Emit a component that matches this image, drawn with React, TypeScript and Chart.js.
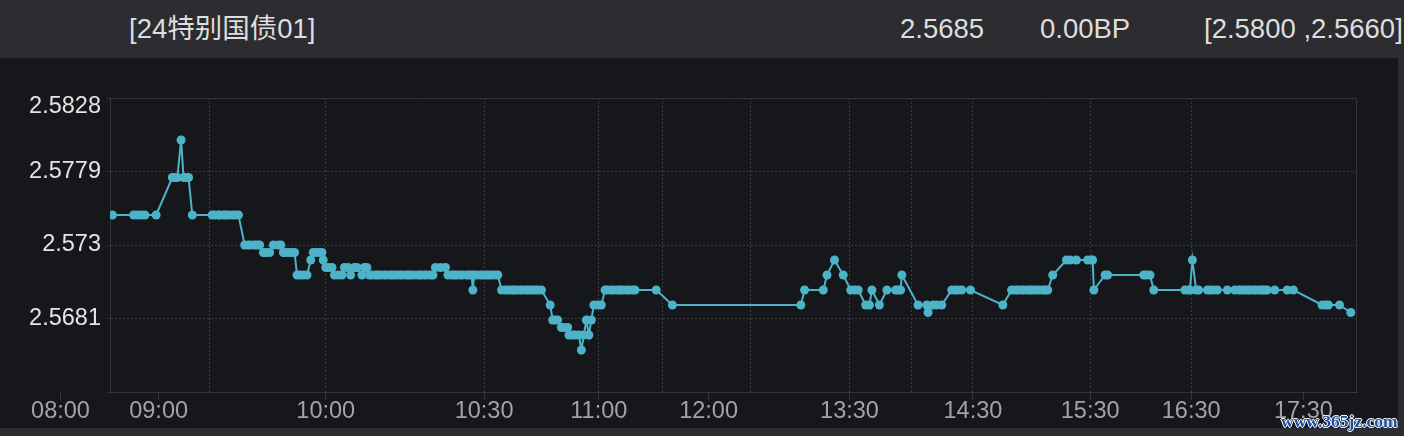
import React, { useEffect, useRef } from "react";
import { Chart, registerables } from "chart.js";

Chart.register(...registerables);

// ---------- header texts ----------
const BOND_NAME = "[24特别国债01]";
const LAST_YIELD = "2.5685";
const CHANGE_BP = "0.00BP";
const RANGE_TEXT = "[2.5800 ,2.5660]";
const WATERMARK = "www.365jz.com";

// ---------- x axis (trade sequence position 0..1000 across the session) ----------
const xLabelPositions = [-40, 39, 173, 300, 392, 480, 593, 692, 786, 867, 957];
const xLabelTexts = ["08:00", "09:00", "10:00", "10:30", "11:00", "12:00", "13:30", "14:30", "15:30", "16:30", "17:30"];
const xGridPositions = [80, 173, 300, 392, 443, 514, 593, 643, 692, 786, 867];

// ---------- y axis ----------
const yTickValues = [2.5632, 2.5681, 2.573, 2.5779, 2.5828];
const yTickLabels = ["", "2.5681", "2.573", "2.5779", "2.5828"];

// ---------- series: [sequence position, yield] ----------
const trades: [number, number][] = [
  [2, 2.575], [19, 2.575], [22, 2.575], [25, 2.575], [28, 2.575], [37, 2.575],
  [50, 2.5775], [52, 2.5775], [54, 2.5775],
  [57, 2.58],
  [59, 2.5775], [61, 2.5775], [63, 2.5775],
  [66, 2.575],
  [82, 2.575], [84, 2.575], [87, 2.575], [88, 2.575], [91, 2.575], [93, 2.575], [95, 2.575], [98, 2.575], [100, 2.575], [103, 2.575],
  [108, 2.573], [111, 2.573], [113, 2.573], [116, 2.573], [118, 2.573], [120, 2.573],
  [123, 2.5725], [125, 2.5725], [128, 2.5725],
  [131, 2.573], [135, 2.573], [137, 2.573],
  [139, 2.5725], [141, 2.5725], [144, 2.5725], [146, 2.5725], [148, 2.5725],
  [150, 2.571], [152, 2.571], [155, 2.571], [158, 2.571],
  [161, 2.572],
  [163, 2.5725], [165, 2.5725], [168, 2.5725], [170, 2.5725],
  [171, 2.572],
  [173, 2.5715], [175, 2.5715], [178, 2.5715],
  [180, 2.571], [183, 2.571], [186, 2.571],
  [188, 2.5715], [191, 2.5715],
  [193, 2.571],
  [196, 2.5715], [198, 2.5715],
  [202, 2.571],
  [204, 2.5715], [206, 2.5715],
  [208, 2.571], [210, 2.571], [213, 2.571], [215, 2.571], [217, 2.571], [220, 2.571], [222, 2.571], [225, 2.571],
  [227, 2.571], [229, 2.571], [232, 2.571], [234, 2.571], [237, 2.571], [239, 2.571], [241, 2.571], [244, 2.571],
  [247, 2.571], [249, 2.571], [252, 2.571], [254, 2.571], [257, 2.571], [259, 2.571],
  [261, 2.5715], [265, 2.5715], [269, 2.5715],
  [271, 2.571], [274, 2.571], [276, 2.571], [278, 2.571], [281, 2.571], [283, 2.571], [286, 2.571], [288, 2.571], [290, 2.571],
  [291, 2.57],
  [292, 2.571], [294, 2.571], [297, 2.571], [299, 2.571], [302, 2.571], [304, 2.571], [306, 2.571], [309, 2.571], [311, 2.571],
  [314, 2.57], [317, 2.57], [319, 2.57], [322, 2.57], [324, 2.57], [326, 2.57], [329, 2.57], [331, 2.57],
  [334, 2.57], [336, 2.57], [338, 2.57], [341, 2.57], [343, 2.57], [346, 2.57],
  [353, 2.569],
  [355, 2.568], [357, 2.568], [359, 2.568],
  [362, 2.5675], [364, 2.5675], [367, 2.5675],
  [368, 2.567], [371, 2.567], [373, 2.567], [376, 2.567],
  [378, 2.566],
  [380, 2.567],
  [382, 2.568],
  [384, 2.567],
  [386, 2.568],
  [388, 2.569], [391, 2.569], [394, 2.569],
  [397, 2.57], [399, 2.57], [402, 2.57], [404, 2.57], [407, 2.57], [409, 2.57], [411, 2.57], [414, 2.57], [416, 2.57], [419, 2.57], [421, 2.57],
  [438, 2.57],
  [451, 2.569],
  [554, 2.569],
  [557, 2.57], [572, 2.57],
  [575, 2.571],
  [581, 2.572],
  [588, 2.571],
  [594, 2.57], [597, 2.57], [600, 2.57],
  [606, 2.569], [609, 2.569],
  [611, 2.57],
  [617, 2.569],
  [623, 2.57], [630, 2.57], [632, 2.57], [634, 2.57],
  [635, 2.571],
  [648, 2.569], [655, 2.569],
  [656, 2.5685],
  [660, 2.569], [663, 2.569], [667, 2.569],
  [675, 2.57], [678, 2.57], [680, 2.57], [683, 2.57], [690, 2.57],
  [716, 2.569],
  [723, 2.57], [726, 2.57], [728, 2.57], [731, 2.57], [733, 2.57], [736, 2.57], [738, 2.57], [740, 2.57], [743, 2.57],
  [745, 2.57], [748, 2.57], [750, 2.57], [752, 2.57],
  [756, 2.571],
  [767, 2.572], [770, 2.572], [775, 2.572], [784, 2.572], [787, 2.572], [788, 2.572],
  [789, 2.57],
  [798, 2.571], [800, 2.571], [829, 2.571], [831, 2.571], [834, 2.571],
  [837, 2.57], [862, 2.57], [865, 2.57], [866, 2.57],
  [868, 2.572],
  [871, 2.57], [873, 2.57], [880, 2.57], [882, 2.57], [885, 2.57], [888, 2.57], [896, 2.57], [902, 2.57], [905, 2.57],
  [907, 2.57], [910, 2.57], [912, 2.57], [914, 2.57], [917, 2.57], [919, 2.57], [922, 2.57], [924, 2.57], [926, 2.57],
  [928, 2.57], [934, 2.57], [944, 2.57], [949, 2.57],
  [972, 2.569], [975, 2.569], [977, 2.569], [986, 2.569],
  [995, 2.5685],
];

// ---------- styles ----------
const FONT = "'Liberation Sans', Arial, 'Noto Sans CJK SC', sans-serif";
const PAGE_BG = "#2c2c31";
const PANEL_BG = "#15171b";
const LINE_COLOR = "#4db3c9";
const BORDER_COLOR = "#333438";
const GRID_COLOR = "#3a3b3f";
const Y_LABEL_COLOR = "#e4e4e4";
const X_LABEL_COLOR = "#a3a3a3";
const AXIS_FONT_SIZE = 23.5;
const X_TICK_LEN = 8;
const Y_TICK_LEN = 3;
const Y_TICK_PAD = 6;
const TOP_LABEL_DROP = 8.5;

const xTickValues = Array.from(new Set([...xLabelPositions.filter((v) => v >= 0), ...xGridPositions])).sort((a, b) => a - b);

const framePlugin = {
  id: "frameAndOuterLabels",
  beforeDatasetsDraw(chart: any) {
    const { ctx, chartArea: a } = chart;
    ctx.save();
    ctx.strokeStyle = BORDER_COLOR;
    ctx.lineWidth = 1;
    ctx.setLineDash([]);
    ctx.beginPath();
    const top = Math.round(a.top) + 0.5;
    const right = Math.round(a.right) - 0.5;
    ctx.moveTo(a.left, top);
    ctx.lineTo(right, top);
    ctx.lineTo(right, a.bottom);
    ctx.stroke();
    ctx.restore();
  },
  afterDraw(chart: any) {
    const sx = chart.scales.x;
    const sy = chart.scales.y;
    const ctx = chart.ctx;
    ctx.save();
    ctx.font = `${AXIS_FONT_SIZE}px ${FONT}`;
    ctx.textBaseline = "middle";
    // labels that sit outside the plotted range of the x axis
    for (let i = 0; i < xLabelPositions.length; i++) {
      const v = xLabelPositions[i];
      if (v >= sx.min) continue;
      const px = Math.round(sx.getPixelForValue(v)) + 0.5;
      ctx.strokeStyle = BORDER_COLOR;
      ctx.lineWidth = 1;
      ctx.beginPath();
      ctx.moveTo(px, sx.top);
      ctx.lineTo(px, sx.top + X_TICK_LEN);
      ctx.stroke();
      ctx.fillStyle = X_LABEL_COLOR;
      ctx.textAlign = "center";
      ctx.fillText(xLabelTexts[i], px, sx.top + X_TICK_LEN + AXIS_FONT_SIZE / 2);
    }
    // top y label is kept inside the plot (shifted down from its tick)
    const last = yTickValues.length - 1;
    ctx.fillStyle = Y_LABEL_COLOR;
    ctx.textAlign = "right";
    ctx.fillText(yTickLabels[last], sy.right - Y_TICK_LEN - Y_TICK_PAD, sy.getPixelForValue(yTickValues[last]) + TOP_LABEL_DROP);
    ctx.restore();
  },
};

function YieldChart() {
  const ref = useRef<HTMLCanvasElement | null>(null);
  useEffect(() => {
    if (!ref.current) return;
    const chart = new Chart(ref.current, {
      type: "line",
      data: {
        datasets: [
          {
            data: trades.map(([x, y]) => ({ x, y })),
            borderColor: LINE_COLOR,
            backgroundColor: LINE_COLOR,
            borderWidth: 2,
            tension: 0,
            pointRadius: 4.5,
            pointHoverRadius: 4.5,
            pointBorderWidth: 0,
            pointBackgroundColor: LINE_COLOR,
            fill: false,
          },
        ],
      },
      options: {
        responsive: false,
        animation: false,
        events: [],
        layout: { padding: { top: 40, right: 41, left: 0, bottom: 0 } },
        plugins: { legend: { display: false }, tooltip: { enabled: false } },
        scales: {
          x: {
            type: "linear",
            min: 0,
            max: 1000,
            afterBuildTicks: (s: any) => {
              s.ticks = xTickValues.map((v) => ({ value: v }));
            },
            afterFit: (s: any) => {
              s.height = 36;
              s.paddingLeft = 0;
              s.paddingRight = 0;
            },
            grid: {
              lineWidth: 1,
              color: (c: any) => (c.tick && xGridPositions.includes(c.tick.value) ? GRID_COLOR : "rgba(0,0,0,0)"),
              tickColor: (c: any) => (c.tick && xLabelPositions.includes(c.tick.value) ? BORDER_COLOR : "rgba(0,0,0,0)"),
              tickLength: X_TICK_LEN,
              tickBorderDash: [],
            },
            border: { display: true, color: BORDER_COLOR, width: 1, dash: [2, 2] },
            ticks: {
              autoSkip: false,
              maxRotation: 0,
              minRotation: 0,
              padding: 0,
              color: X_LABEL_COLOR,
              font: { family: FONT, size: AXIS_FONT_SIZE, lineHeight: 1 },
              callback: (v: any) => {
                const i = xLabelPositions.indexOf(Number(v));
                return i >= 0 ? xLabelTexts[i] : "";
              },
            },
          },
          y: {
            type: "linear",
            min: yTickValues[0],
            max: yTickValues[yTickValues.length - 1],
            afterBuildTicks: (s: any) => {
              s.ticks = yTickValues.map((v) => ({ value: v }));
            },
            afterFit: (s: any) => {
              s.width = 110;
              s.paddingTop = 0;
              s.paddingBottom = 0;
            },
            grid: {
              lineWidth: 1,
              color: (c: any) =>
                c.tick && c.index > 0 && c.index < yTickValues.length - 1 ? GRID_COLOR : "rgba(0,0,0,0)",
              tickColor: BORDER_COLOR,
              tickLength: Y_TICK_LEN,
              tickBorderDash: [],
            },
            border: { display: true, color: BORDER_COLOR, width: 1, dash: [2, 2] },
            ticks: {
              padding: Y_TICK_PAD,
              color: Y_LABEL_COLOR,
              font: { family: FONT, size: AXIS_FONT_SIZE, lineHeight: 1 },
              callback: (_v: any, i: number) => (i === yTickValues.length - 1 ? "" : yTickLabels[i]),
            },
          },
        },
      },
      plugins: [framePlugin],
    } as any);
    return () => chart.destroy();
  }, []);
  return <canvas ref={ref} width={1398} height={370} style={{ display: "block" }} />;
}

export default function App() {
  const headerText: React.CSSProperties = { position: "absolute", top: 0, whiteSpace: "nowrap" };
  return (
    <div
      style={{
        position: "fixed",
        left: 0,
        top: 0,
        width: 1404,
        height: 436,
        background: PAGE_BG,
        overflow: "hidden",
        fontFamily: FONT,
      }}
    >
      <div style={{ position: "absolute", left: 0, top: 0, width: 1404, height: 58, lineHeight: "57px", fontSize: 27.5, color: "#dedede" }}>
        <span style={{ ...headerText, left: 129 }}>{BOND_NAME}</span>
        <span style={{ ...headerText, left: 900 }}>{LAST_YIELD}</span>
        <span style={{ ...headerText, left: 1040 }}>{CHANGE_BP}</span>
        <span style={{ ...headerText, left: 1204 }}>{RANGE_TEXT}</span>
      </div>
      <div style={{ position: "absolute", left: 0, top: 58, width: 1398, height: 370, background: PANEL_BG }}>
        <YieldChart />
      </div>
      <div
        style={{
          position: "absolute",
          left: 1281,
          top: 410,
          fontFamily: "'Liberation Serif', 'DejaVu Serif', serif",
          fontWeight: "bold",
          fontSize: 17.5,
          lineHeight: "22px",
          color: "#1d4f9e",
          textShadow: "1px 0 0 #fff, -1px 0 0 #fff, 0 1px 0 #fff, 0 -1px 0 #fff",
          whiteSpace: "nowrap",
        }}
      >
        {WATERMARK}
      </div>
    </div>
  );
}
